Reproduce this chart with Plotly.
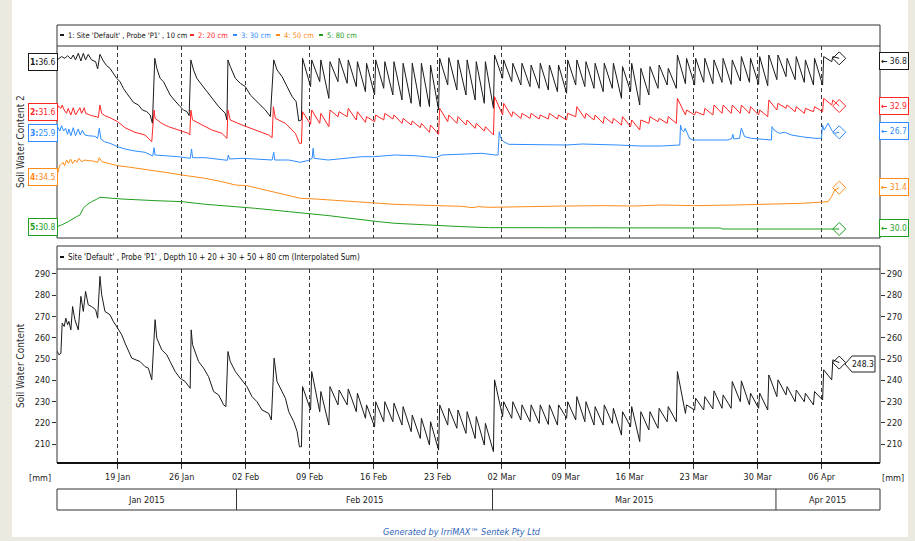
import pandas as pd
import plotly.graph_objects as go

W, H = 915, 541
BASE = pd.Timestamp("2015-01-01")
CYCLE_START = pd.Timestamp("2015-02-08")   # first day with daily irrigation cycles
END_DAY = 96.92                             # last reading (day of 2015)

# ---------------- data ----------------
# 10 cm  (early part: day-of-2015, value)
black_early_days = [11.36, 11.57, 11.86, 12.23, 12.52, 12.88, 13.14, 13.39, 13.69, 13.98, 14.24, 14.49,
                    14.78, 15.15, 15.59, 15.81, 16.06, 16.43, 16.79, 17.16, 17.52, 17.89, 18.26, 18.62,
                    18.99, 19.35, 19.72, 20.27, 20.70, 21.18, 21.55, 21.80, 22.06, 22.28, 22.64, 23.01,
                    23.37, 23.74, 24.10, 24.47, 24.83, 25.20, 25.57, 25.82, 26.00, 26.30, 26.66, 27.21,
                    27.76, 28.31, 28.67, 29.04, 29.40, 29.77, 29.95, 30.06, 30.32, 30.87, 31.41, 31.96,
                    32.51, 33.06, 33.61, 34.15, 34.70, 35.07, 35.43, 35.98, 36.53, 37.08, 37.52, 37.81]
black_early_vals = [36.68, 36.8, 36.93, 36.8, 37.0, 36.75, 37.05, 36.68, 37.18, 36.6, 37.18, 36.68,
                    37.1, 36.68, 36.55, 36.0, 37.1, 36.6, 36.25, 36.05, 35.68, 35.3, 35.05, 34.55,
                    34.18, 33.8, 33.5, 33.3, 32.93, 32.8, 32.55, 31.93, 36.8, 36.05, 35.3, 35.05,
                    34.55, 34.05, 33.75, 33.43, 33.18, 32.93, 32.8, 32.5, 36.68, 35.93, 35.3, 34.8,
                    34.3, 33.8, 33.55, 33.18, 32.93, 32.68, 32.18, 36.68, 36.18, 35.3, 34.93, 34.68,
                    34.05, 33.68, 33.3, 32.93, 32.43, 36.68, 35.93, 35.43, 34.68, 33.93, 33.55, 32.1]
# daily cycles from 08 Feb to 07 Apr: value before irrigation / value after irrigation
black_trough = [32.18, 34.68, 35.05, 33.8, 35.05, 34.93, 34.68, 34.3, 34.05, 34.55, 34.05, 33.68,
                33.43, 33.18, 33.18, 32.93, 34.8, 34.43, 34.05, 33.68, 33.43, 33.05, 35.3, 35.05,
                34.8, 34.68, 34.55, 34.43, 34.3, 34.18, 34.8, 34.68, 34.55, 34.3, 34.55, 33.8,
                34.3, 33.3, 34.05, 34.55, 34.8, 34.55, 34.9, 34.8, 35.0, 34.9, 35.0, 34.85,
                35.1, 35.0, 34.85, 34.75, 35.2, 35.43, 35.2, 35.0, 34.8, 34.8, 36.55]
black_peak = [36.8, 36.68, 36.68, 36.55, 36.8, 36.68, 36.55, 36.43, 36.68, 36.55, 36.55, 36.43,
              36.43, 36.43, 36.3, 36.8, 36.85, 36.68, 36.68, 36.55, 36.55, 37.05, 36.68, 36.43,
              36.43, 36.3, 36.43, 36.3, 36.3, 36.68, 36.68, 36.55, 36.43, 36.43, 36.43, 36.18,
              36.43, 36.05, 36.18, 36.3, 36.05, 37.05, 36.8, 36.8, 36.8, 36.68, 36.8, 36.68,
              36.93, 36.8, 36.93, 37.05, 37.05, 36.8, 36.93, 36.68, 36.8, 36.93, 36.93]
black_end = 36.8

# 20 cm
red_early_days = [11.35, 11.49, 11.79, 11.93, 12.15, 12.41, 12.59, 12.88, 13.14, 13.39, 13.87, 14.05,
                  14.35, 14.49, 14.78, 15.15, 15.70, 15.88, 16.06, 16.25, 16.61, 17.16, 18.0, 18.80,
                  19.90, 21.0, 21.73, 21.98, 22.09, 22.82, 23.56, 24.65, 25.75, 25.89, 26.0, 26.19,
                  27.21, 28.31, 29.40, 29.95, 30.06, 30.32, 31.60, 33.06, 34.52, 34.89, 35.03, 35.25,
                  36.35, 37.44, 37.88]
red_early_vals = [31.73, 32.87, 32.4, 33.07, 32.07, 31.4, 32.4, 31.07, 32.53, 31.07, 32.53, 31.4,
                  32.53, 31.4, 31.2, 30.93, 30.73, 30.53, 33.07, 31.4, 30.93, 30.53, 29.73, 28.53,
                  27.6, 27.07, 25.73, 32.07, 30.4, 29.4, 28.73, 28.07, 27.4, 27.07, 32.07, 30.07,
                  29.07, 28.07, 27.4, 26.4, 32.07, 30.07, 29.07, 28.07, 27.07, 26.53, 32.73, 30.4,
                  29.4, 27.4, 25.4]
red_trough = [25.4, 29.2, 29.4, 28.73, 30.73, 30.73, 30.07, 29.6, 29.73, 30.07, 30.27, 29.4,
              29.07, 28.53, 27.6, 27.2, 29.73, 29.4, 29.07, 28.4, 27.87, 27.07, 31.07, 30.73,
              30.4, 30.4, 30.27, 30.27, 30.27, 30.07, 30.73, 30.4, 30.07, 29.4, 29.4, 29.07,
              28.73, 28.07, 29.4, 29.73, 29.4, 29.4, 31.07, 31.07, 31.07, 31.07, 31.4, 31.4,
              31.4, 31.4, 31.07, 30.73, 32.07, 32.4, 31.73, 31.4, 31.73, 31.73, 33.07]
red_peak = [31.73, 32.07, 31.4, 32.07, 31.73, 32.4, 31.73, 30.73, 31.07, 31.4, 31.07, 30.4,
            29.87, 29.4, 29.07, 32.4, 31.07, 30.73, 30.07, 29.4, 28.73, 34.73, 33.4, 31.73,
            31.4, 31.4, 31.07, 31.4, 31.07, 31.4, 32.73, 31.4, 31.07, 30.73, 30.4, 30.73,
            30.07, 30.07, 30.73, 30.4, 30.73, 34.4, 32.07, 31.73, 32.4, 33.07, 33.07, 33.07,
            33.07, 32.73, 32.07, 34.07, 33.4, 33.07, 32.73, 32.4, 32.73, 34.4, 34.07]
red_end = 32.87

# 30 cm
blue_days = [11.35, 11.49, 11.68, 11.86, 12.08, 12.30, 12.52, 12.66, 12.88, 13.14, 13.39, 13.69,
             13.91, 14.13, 14.42, 14.78, 15.51, 15.81, 15.99, 16.17, 16.54, 17.16, 18.0, 18.80,
             19.90, 21.0, 21.84, 21.98, 22.09, 23.19, 24.65, 25.93, 26.08, 26.19, 27.58, 29.99,
             30.10, 30.24, 31.60, 33.06, 34.89, 35.07, 35.18, 36.71, 37.99, 38.91, 39.27, 39.38,
             39.49, 41.03, 42.86, 44.68, 46.0, 48.34, 50.53, 51.99, 52.80, 53.46, 54.92, 56.38,
             57.84, 59.30, 59.60, 59.74, 59.85, 60.04, 60.22, 60.77, 62.96, 64.79, 67.05, 68.81,
             70.86, 72.68, 75.24, 77.44, 79.48, 79.56, 79.70, 79.92, 80.07, 80.29, 80.54, 80.91,
             81.82, 84.75, 85.18, 85.29, 85.40, 86.02, 86.21, 86.39, 86.57, 87.30, 89.50, 89.57,
             89.79, 90.05, 90.41, 90.96, 91.69, 92.79, 94.25, 94.98, 95.09, 95.27, 95.53, 95.71,
             96.08, 96.44, 96.92]
blue_vals = [25.9, 26.75, 26.22, 27.07, 26.22, 26.65, 25.69, 26.54, 25.47, 26.75, 25.47, 26.54,
             25.58, 26.33, 25.58, 25.47, 25.37, 25.05, 26.65, 24.94, 24.51, 24.25, 23.71, 23.34,
             23.02, 22.81, 22.22, 23.55, 22.38, 22.27, 22.11, 21.85, 23.34, 21.95, 21.95, 21.53,
             22.38, 21.74, 21.85, 21.74, 21.58, 22.81, 21.58, 21.58, 21.21, 21.53, 21.85, 23.45,
             21.85, 21.58, 21.85, 22.11, 22.11, 22.38, 22.27, 22.11, 21.95, 22.38, 22.49, 22.65,
             22.65, 22.38, 22.38, 26.11, 25.31, 24.78, 24.51, 24.09, 24.09, 23.98, 23.98, 24.14,
             24.09, 23.98, 23.82, 23.82, 23.98, 27.18, 26.38, 26.11, 26.65, 25.85, 25.05, 24.78,
             24.78, 24.78, 25.05, 25.69, 24.94, 25.05, 26.65, 25.85, 25.31, 25.05, 24.78, 26.91,
             26.38, 26.11, 25.85, 26.01, 25.58, 25.31, 25.05, 25.05, 27.18, 26.38, 26.91, 27.45,
             26.38, 25.85, 26.01]

# 50 cm
orange_days = [11.35, 11.46, 11.64, 11.82, 12.01, 12.19, 12.41, 12.63, 12.85, 13.07, 13.32, 13.54,
               13.76, 14.05, 14.42, 14.78, 15.33, 15.81, 15.99, 16.25, 16.98, 18.0, 19.17, 20.27,
               22.09, 23.92, 25.02, 26.48, 27.58, 29.40, 30.87, 32.14, 33.42, 34.89, 36.71, 37.99,
               39.64, 41.28, 43.22, 44.68, 46.0, 48.34, 53.02, 55.65, 56.75, 57.48, 58.57, 60.04,
               62.96, 67.05, 71.18, 74.51, 77.44, 81.09, 85.48, 89.86, 92.79, 95.71, 96.08, 96.44,
               96.92]
orange_vals = [34.5, 36.1, 37.9, 38.3, 38.9, 37.9, 39.6, 38.6, 39.9, 38.5, 39.6, 38.9,
               40.1, 39.1, 39.6, 39.4, 39.3, 38.9, 40.3, 39.1, 38.6, 37.9, 37.5, 37.1,
               36.3, 35.6, 35.1, 34.6, 34.1, 33.1, 32.1, 31.9, 31.1, 30.1, 29.1, 28.1,
               27.9, 27.6, 27.3, 26.9, 26.6, 26.3, 25.9, 25.7, 25.3, 25.6, 25.4, 25.5,
               25.7, 25.8, 25.9, 25.8, 26.1, 25.9, 26.1, 26.3, 26.6, 27.1, 28.6, 30.6,
               31.3]

# 80 cm
green_days = [11.36, 11.86, 12.59, 13.14, 13.50, 13.87, 14.24, 14.60, 15.15, 15.70, 16.06, 16.61,
              18.44, 22.09, 25.02, 27.58, 30.87, 33.06, 36.71, 38.91, 41.1, 42.86, 44.68, 46.51,
              48.34, 51.63, 55.65, 58.57, 70.9, 84.01, 84.09, 96.92]
green_vals = [30.8, 31.13, 31.8, 32.47, 32.8, 33.13, 34.47, 35.13, 35.8, 36.27, 36.67, 36.6,
              36.33, 36.0, 35.8, 35.27, 34.8, 34.47, 33.8, 33.47, 33.0, 32.6, 32.13, 31.8,
              31.47, 31.13, 30.8, 30.6, 30.53, 30.53, 30.33, 30.33]

# Interpolated sum 10..80 cm [mm]
sum_early_days = [11.36, 11.57, 11.79, 11.93, 12.15, 12.33, 12.52, 12.66, 12.88, 13.07, 13.32, 13.69,
                  13.98, 14.24, 14.49, 14.78, 15.15, 15.59, 15.81, 16.06, 16.25, 16.61, 17.16, 17.52,
                  18.0, 18.44, 18.80, 19.54, 20.45, 21.0, 21.36, 21.73, 22.09, 22.28, 22.82, 23.37,
                  23.74, 24.29, 24.83, 25.38, 25.93, 26.04, 26.19, 26.85, 27.39, 27.94, 28.49, 29.04,
                  29.59, 29.84, 30.06, 30.32, 30.87, 31.60, 32.14, 32.69, 33.24, 33.79, 34.52, 34.81,
                  35.11, 35.43, 35.98, 36.35, 36.71, 37.26, 37.63, 37.88]
sum_early_vals = [253.8, 252.0, 252.7, 266.9, 265.3, 269.2, 266.1, 267.7, 263.7, 274.7, 268.5, 263.7,
                  279.5, 272.4, 281.8, 275.5, 274.7, 273.2, 269.2, 288.9, 280.3, 272.4, 270.8, 267.7,
                  264.5, 261.4, 257.5, 250.4, 248.8, 246.4, 245.7, 240.2, 268.5, 259.8, 254.3, 252.0,
                  248.8, 244.1, 240.9, 239.4, 236.2, 263.7, 256.7, 248.8, 245.7, 241.7, 234.7, 233.1,
                  228.4, 227.6, 253.5, 248.8, 244.1, 240.2, 237.0, 232.3, 229.9, 226.0, 224.4, 221.3,
                  250.4, 239.4, 234.7, 231.5, 225.2, 220.5, 215.8, 208.7]
sum_trough = [208.7, 226.0, 225.2, 218.9, 228.4, 228.4, 225.2, 222.1, 218.1, 220.5, 220.5, 218.9,
              215.8, 212.6, 209.5, 207.1, 218.9, 217.4, 215.0, 212.6, 209.5, 206.4, 222.9, 222.1,
              221.3, 220.5, 219.7, 219.2, 218.9, 222.1, 221.3, 220.5, 218.9, 218.9, 219.7, 214.2,
              218.1, 211.1, 216.6, 217.4, 220.5, 220.5, 224.4, 226.0, 226.0, 226.5, 226.8, 226.8,
              229.9, 228.4, 226.8, 226.0, 232.3, 233.1, 229.9, 229.9, 228.4, 230.7, 240.2]
sum_peak = [237.0, 244.1, 234.7, 237.0, 235.4, 235.9, 233.9, 228.4, 229.9, 229.9, 229.2, 227.6,
            223.6, 222.1, 220.5, 228.4, 226.8, 226.0, 225.2, 222.9, 219.7, 240.2, 229.9, 229.9,
            228.4, 228.4, 228.4, 228.4, 228.4, 229.9, 232.3, 229.9, 227.6, 228.4, 226.8, 225.2,
            227.6, 225.2, 225.2, 226.8, 227.6, 244.1, 228.4, 231.5, 232.3, 235.0, 233.1, 239.4,
            239.7, 233.9, 233.9, 242.5, 240.2, 237.0, 235.4, 233.9, 234.7, 244.9, 249.6]
sum_end = 248.3

legend_labels = ["1: Site 'Default' , Probe 'P1' , 10 cm", "2: 20 cm", "3: 30 cm", "4: 50 cm", "5: 80 cm"]
first_labels = ["1: 36.6", "2: 31.6", "3: 25.9", "4: 34.5", "5: 30.8"]
last_labels = ["36.8", "32.9", "26.7", "31.4", "30.0"]
sum_last_label = "248.3"
month_labels = ["Jan 2015", "Feb 2015", "Mar 2015", "Apr 2015"]
month_bounds = ["2015-01-12 08:44", "2015-02-01", "2015-03-01", "2015-04-01", "2015-04-12 09:07"]
sum_ticks = [210, 220, 230, 240, 250, 260, 270, 280, 290]

# ---------------- styling ----------------
COLORS = ["#1a1a1a", "#ff2626", "#2e8cff", "#ff8c1a", "#1f9e1f"]
FONT = "Liberation Sans Narrow, Arial Narrow, DejaVu Sans Condensed, sans-serif"
X_RANGE = ["2015-01-12 08:44", "2015-04-12 09:07"]
X0, X1 = 57, 880
TOP_T, TOP_B = 46, 238
BOT_T, BOT_B = 269, 463
# per-sensor hidden axes (value ranges chosen so that each trace sits where it does in the picture)
TOP_RANGES = [[23.325, 37.725], [6.47, 44.87], [9.1, 39.82], [16.2, 73.8], [28.53, 66.93]]
BOT_RANGE = [201.06, 292.35]


def px(x):
    return x / W


def py(y):
    return 1 - y / H


def to_time(days):
    return [BASE + pd.Timedelta(days=d) for d in days]


def build(early_days, early_vals, troughs, peaks, end_val):
    t = to_time(early_days)
    v = list(early_vals)
    for i, (lo, hi) in enumerate(zip(troughs, peaks)):
        day = CYCLE_START + pd.Timedelta(days=i)
        t += [day + pd.Timedelta(hours=2.4), day + pd.Timedelta(hours=5.3)]
        v += [lo, hi]
    t.append(BASE + pd.Timedelta(days=END_DAY))
    v.append(end_val)
    return t, v


series = [
    build(black_early_days, black_early_vals, black_trough, black_peak, black_end),
    build(red_early_days, red_early_vals, red_trough, red_peak, red_end),
    (to_time(blue_days), blue_vals),
    (to_time(orange_days), orange_vals),
    (to_time(green_days), green_vals),
]
sum_t, sum_v = build(sum_early_days, sum_early_vals, sum_trough, sum_peak, sum_end)

fig = go.Figure()
yref_names = ["y3", "y4", "y5", "y6", "y7"]
for (t, v), c, yn in zip(series, COLORS, yref_names):
    fig.add_trace(go.Scatter(x=t, y=v, mode="lines", line=dict(color=c, width=1),
                             xaxis="x2", yaxis=yn, showlegend=False, hoverinfo="skip"))
    fig.add_trace(go.Scatter(x=[t[-1]], y=[v[-1]], mode="markers",
                             marker=dict(symbol="diamond-open", size=10, color=c, line=dict(width=1, color=c)),
                             xaxis="x2", yaxis=yn, showlegend=False, hoverinfo="skip"))

fig.add_trace(go.Scatter(x=sum_t, y=sum_v, mode="lines", line=dict(color="#1a1a1a", width=1),
                         xaxis="x", yaxis="y", showlegend=False, hoverinfo="skip"))
fig.add_trace(go.Scatter(x=[sum_t[-1]], y=[sum_v[-1]], mode="markers",
                         marker=dict(symbol="diamond-open", size=10, color="#1a1a1a", line=dict(width=1)),
                         xaxis="x", yaxis="y", showlegend=False, hoverinfo="skip"))

xdom = [px(X0), px(X1)]
grid = dict(showgrid=True, gridcolor="#3a3a3a", gridwidth=1, griddash="4px,3px",
            tick0="2015-01-19", dtick=7 * 86400000, zeroline=False)
layout = dict(
    width=W, height=H, margin=dict(l=0, r=0, t=0, b=0, autoexpand=False),
    paper_bgcolor="#ECEAE0", plot_bgcolor="rgba(0,0,0,0)",
    font=dict(family=FONT, size=9, color="#222"),
    xaxis=dict(domain=xdom, anchor="y", type="date", range=X_RANGE, tickformat="%d %b",
               ticks="outside", ticklen=5, tickcolor="#333", showline=False,
               tickfont=dict(size=9, family=FONT, color="#222"), **grid),
    xaxis2=dict(domain=xdom, anchor="y3", type="date", range=X_RANGE, matches="x",
                showticklabels=False, ticks="", showline=False, **grid),
    yaxis=dict(domain=[py(BOT_B), py(BOT_T)], anchor="x", range=BOT_RANGE, tickvals=sum_ticks,
               ticks="outside", ticklen=4, tickcolor="#333", showgrid=False, zeroline=False,
               showline=False, tickfont=dict(size=9, family=FONT, color="#222")),
    yaxis2=dict(domain=[py(BOT_B), py(BOT_T)], anchor="x", overlaying="y", side="right",
                range=BOT_RANGE, tickvals=sum_ticks, ticks="outside", ticklen=4, tickcolor="#333",
                showgrid=False, zeroline=False, showline=False,
                tickfont=dict(size=9, family=FONT, color="#222")),
)
for i, yn in enumerate(["yaxis3", "yaxis4", "yaxis5", "yaxis6", "yaxis7"]):
    d = dict(domain=[py(TOP_B), py(TOP_T)], anchor="x2", range=TOP_RANGES[i], visible=False,
             showgrid=False, zeroline=False)
    if i > 0:
        d["overlaying"] = "y3"
    layout[yn] = d
fig.update_layout(**layout)
# invisible point so the right-hand axis is drawn
fig.add_trace(go.Scatter(x=[sum_t[0]], y=[sum_v[0]], mode="markers", marker=dict(opacity=0),
                         xaxis="x", yaxis="y2", showlegend=False, hoverinfo="skip"))

shapes = []
LC = "#333333"


def rect(x0, y0, x1, y1, color=LC, width=1, fill=None, layer="above"):
    shapes.append(dict(type="rect", xref="paper", yref="paper", x0=px(x0), x1=px(x1),
                       y0=py(y1), y1=py(y0), line=dict(color=color, width=width),
                       fillcolor=fill, layer=layer))


def hline(x0, x1, y, width=1, color=LC):
    shapes.append(dict(type="line", xref="paper", yref="paper", x0=px(x0), x1=px(x1),
                       y0=py(y), y1=py(y), line=dict(color=color, width=width)))


# white page
rect(12, 0, 908, 537, color="#ffffff", width=0, fill="#ffffff", layer="below")
# top panel frame
rect(X0, 25, X1, TOP_B)
hline(X0, X1, TOP_T)
# bottom panel frame
rect(X0, 246, X1, BOT_B)
hline(X0, X1, BOT_T)
hline(X0, X1, BOT_B, width=2, color="#111")
# month band
rect(X0, 489, X1, 510)
for b in month_bounds[1:-1]:
    shapes.append(dict(type="line", xref="x", yref="paper", x0=b, x1=b, y0=py(510), y1=py(489),
                       line=dict(color=LC, width=1)))

annotations = []


def text(x, y, s, size=9, color="#222", xanchor="center", **kw):
    annotations.append(dict(x=px(x), y=py(y), xref="paper", yref="paper", text=s, showarrow=False,
                            xanchor=xanchor, yanchor="middle",
                            font=dict(size=size, color=color, family=FONT), **kw))


# legends
leg_x = [60, 190, 233, 276, 319]
for lx, lab, c in zip(leg_x, legend_labels, COLORS):
    rect(lx, 34, lx + 4, 36, color=c, width=0, fill=c)
    text(lx + 6, 35, lab, size=7.5, color=c if c != COLORS[0] else "#111", xanchor="left")
rect(60, 256, 64, 258, color="#111", width=0, fill="#111")
text(66, 257, "Site 'Default' , Probe 'P1' , Depth 10 + 20 + 30 + 50 + 80 cm (Interpolated Sum)",
     size=8, color="#111", xanchor="left")

# first / last value boxes
first_y = [62, 112, 133, 177, 227]
last_y = [61, 106, 131, 187, 228]
for lab, c, fy in zip(first_labels, COLORS, first_y):
    n, v = lab.split(" ")
    text(43, fy, "<b>" + n + "</b>" + v, size=8.5, color=c, bordercolor=c, borderwidth=1,
         borderpad=1, bgcolor="#ffffff", height=14)
for lab, c, ly in zip(last_labels, COLORS, last_y):
    text(893.5, ly, "<b>\u2190</b> " + lab, size=8.5, color=c, bordercolor=c, borderwidth=1,
         borderpad=1, bgcolor="#ffffff", height=14)

# sum end label (arrow-shaped box)
ax0, ax1, atop, abot, amid = 845, 875, 356, 372, 364
path = "M {} {} L {} {} L {} {} L {} {} L {} {} Z".format(
    px(ax0), py(amid), px(ax0 + 7), py(atop), px(ax1), py(atop), px(ax1), py(abot), px(ax0 + 7), py(abot))
shapes.append(dict(type="path", xref="paper", yref="paper", path=path,
                   line=dict(color="#222", width=1), fillcolor="#ffffff"))
text(863, amid, sum_last_label, size=8.5, color="#111")

# axis titles & units
text(20, 142, "Soil Water Content 2", size=10, color="#333", textangle=-90)
text(20, 366, "Soil Water Content", size=10, color="#333", textangle=-90)
text(40, 478, "[mm]", color="#222")
text(893, 478, "[mm]", color="#222")

# month labels (centred between month boundaries)
for i, lab in enumerate(month_labels):
    a = pd.Timestamp(month_bounds[i])
    b = pd.Timestamp(month_bounds[i + 1])
    mid = a + (b - a) / 2
    annotations.append(dict(x=mid, y=py(499.5), xref="x", yref="paper", text=lab, showarrow=False,
                            xanchor="center", yanchor="middle",
                            font=dict(size=9, color="#222", family=FONT)))

# footer
text(462, 532, "<i>Generated by IrriMAX\u2122 Sentek Pty Ltd</i>", color="#2f64b8")

fig.update_layout(shapes=shapes, annotations=annotations)
fig.write_html("out.html", config={"displayModeBar": False},
               post_script="document.body.style.margin='0';document.body.style.overflow='hidden';")
